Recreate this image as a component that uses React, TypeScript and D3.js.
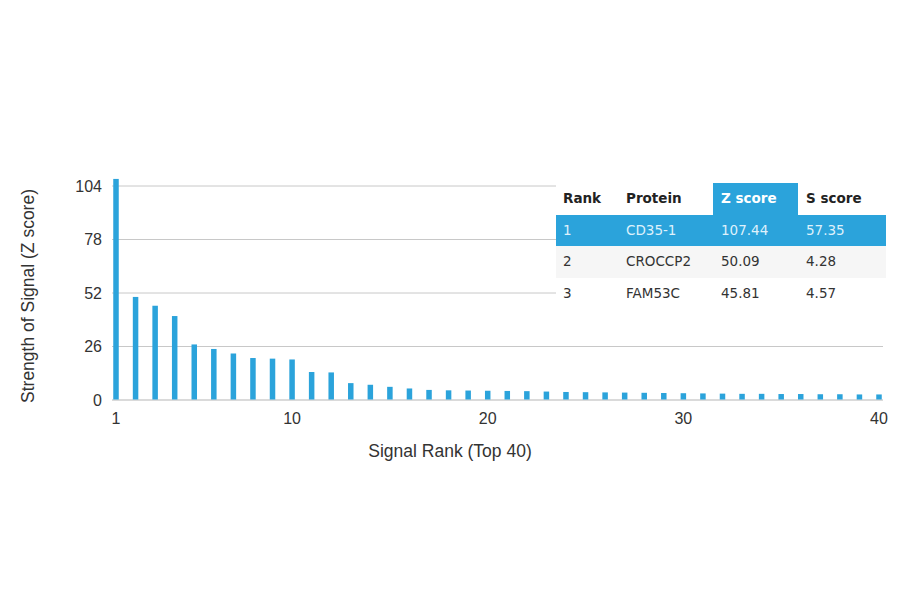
import React, { useEffect, useRef } from 'react';
import * as d3 from 'd3';

// Z scores for the top 40 signal ranks
const ranks = d3.range(1, 41);
const zValues = [
  107.44, 50.09, 45.81, 40.8, 27.0, 24.8, 22.6, 20.4, 20.1, 19.7,
  13.6, 13.4, 8.2, 7.4, 6.4, 5.6, 4.9, 4.7, 4.6, 4.5,
  4.4, 4.3, 4.1, 3.9, 3.8, 3.7, 3.6, 3.5, 3.4, 3.3,
  3.2, 3.1, 3.0, 3.0, 2.9, 2.9, 2.8, 2.8, 2.7, 2.7,
];
const yTicks = [0, 26, 52, 78, 104];
const xTicks = [1, 10, 20, 30, 40];

// table
const tableHeaders = ['Rank', 'Protein', 'Z score', 'S score'];
const tableRanks = ['1', '2', '3'];
const tableProteins = ['CD35-1', 'CROCCP2', 'FAM53C'];
const tableZ = ['107.44', '50.09', '45.81'];
const tableS = ['57.35', '4.28', '4.57'];

const BLUE = '#2ba3db';

const App: React.FC = () => {
  const svgRef = useRef<SVGSVGElement>(null);

  useEffect(() => {
    if (!svgRef.current) return;
    const svg = d3.select(svgRef.current);
    svg.selectAll('*').remove();

    const x = d3.scaleLinear().domain([1, 40]).range([116, 879]);
    const y = d3.scaleLinear().domain([0, 104]).range([400, 186]);
    const axisFont = '"Liberation Sans", Arial, sans-serif';

    // gridlines
    svg.append('g')
      .selectAll('line')
      .data(yTicks)
      .enter()
      .append('line')
      .attr('x1', 112)
      .attr('x2', 883)
      .attr('y1', d => y(d))
      .attr('y2', d => y(d))
      .attr('stroke', d => (d === 0 ? '#b5b5b5' : '#c8c8c8'))
      .attr('stroke-width', 1);

    // y tick labels
    svg.append('g')
      .selectAll('text')
      .data(yTicks)
      .enter()
      .append('text')
      .attr('x', 102)
      .attr('y', d => y(d))
      .attr('dy', '0.36em')
      .attr('text-anchor', 'end')
      .style('font-family', axisFont)
      .style('font-size', '16px')
      .style('fill', '#333')
      .text(d => d);

    // x tick labels
    svg.append('g')
      .selectAll('text')
      .data(xTicks)
      .enter()
      .append('text')
      .attr('x', d => x(d))
      .attr('y', 424)
      .attr('text-anchor', 'middle')
      .style('font-family', axisFont)
      .style('font-size', '16px')
      .style('fill', '#333')
      .text(d => d);

    // bars
    svg.append('g')
      .selectAll('rect')
      .data(zValues)
      .enter()
      .append('rect')
      .attr('x', (d, i) => x(ranks[i]) - 2.75)
      .attr('y', d => y(d))
      .attr('width', 5.5)
      .attr('height', d => y(0) - y(d) - 0.5)
      .attr('fill', BLUE);

    // axis titles
    svg.append('text')
      .attr('x', 450)
      .attr('y', 457)
      .attr('text-anchor', 'middle')
      .style('font-family', axisFont)
      .style('font-size', '17.5px')
      .style('fill', '#333')
      .text('Signal Rank (Top 40)');

    svg.append('text')
      .attr('transform', 'translate(34,296) rotate(-90)')
      .attr('text-anchor', 'middle')
      .style('font-family', axisFont)
      .style('font-size', '17.5px')
      .style('fill', '#333')
      .text('Strength of Signal (Z score)');

    // table
    const tableFont = '"DejaVu Sans", sans-serif';
    const colX = [563, 626, 721, 806];
    const tLeft = 556;
    const tRight = 886;
    const rowTop = [183, 215, 246, 278];
    const rowH = [32, 31, 32, 31];

    const table = svg.append('g');
    table.append('rect')
      .attr('x', tLeft)
      .attr('y', rowTop[0])
      .attr('width', tRight - tLeft)
      .attr('height', rowTop[3] + rowH[3] - rowTop[0])
      .attr('fill', '#fff');

    // Z score header cell
    table.append('rect')
      .attr('x', 713)
      .attr('y', rowTop[0])
      .attr('width', 85)
      .attr('height', rowH[0])
      .attr('fill', BLUE);

    table.selectAll('text.head')
      .data(tableHeaders)
      .enter()
      .append('text')
      .attr('class', 'head')
      .attr('x', (d, i) => colX[i])
      .attr('y', rowTop[0] + 20)
      .style('font-family', tableFont)
      .style('font-size', '13.5px')
      .style('font-weight', 'bold')
      .style('fill', (d, i) => (i === 2 ? '#fff' : '#222'))
      .text(d => d);

    const rows = tableRanks.map((r, i) => [r, tableProteins[i], tableZ[i], tableS[i]]);
    const rowFill = [BLUE, '#f6f6f6', '#fff'];
    const textFill = ['#dff1fb', '#333', '#333'];

    rows.forEach((row, ri) => {
      table.append('rect')
        .attr('x', tLeft)
        .attr('y', rowTop[ri + 1])
        .attr('width', tRight - tLeft)
        .attr('height', rowH[ri + 1])
        .attr('fill', rowFill[ri]);

      table.selectAll(`text.row${ri}`)
        .data(row)
        .enter()
        .append('text')
        .attr('class', `row${ri}`)
        .attr('x', (d, i) => colX[i])
        .attr('y', rowTop[ri + 1] + 20)
        .style('font-family', tableFont)
        .style('font-size', '13.5px')
        .style('fill', textFill[ri])
        .text(d => d);
    });
  }, []);

  return (
    <div style={{ position: 'absolute', left: 0, top: 0, width: 900, height: 594, background: '#fff' }}>
      <svg ref={svgRef} width={900} height={594} viewBox="0 0 900 594" />
    </div>
  );
};

export default App;
